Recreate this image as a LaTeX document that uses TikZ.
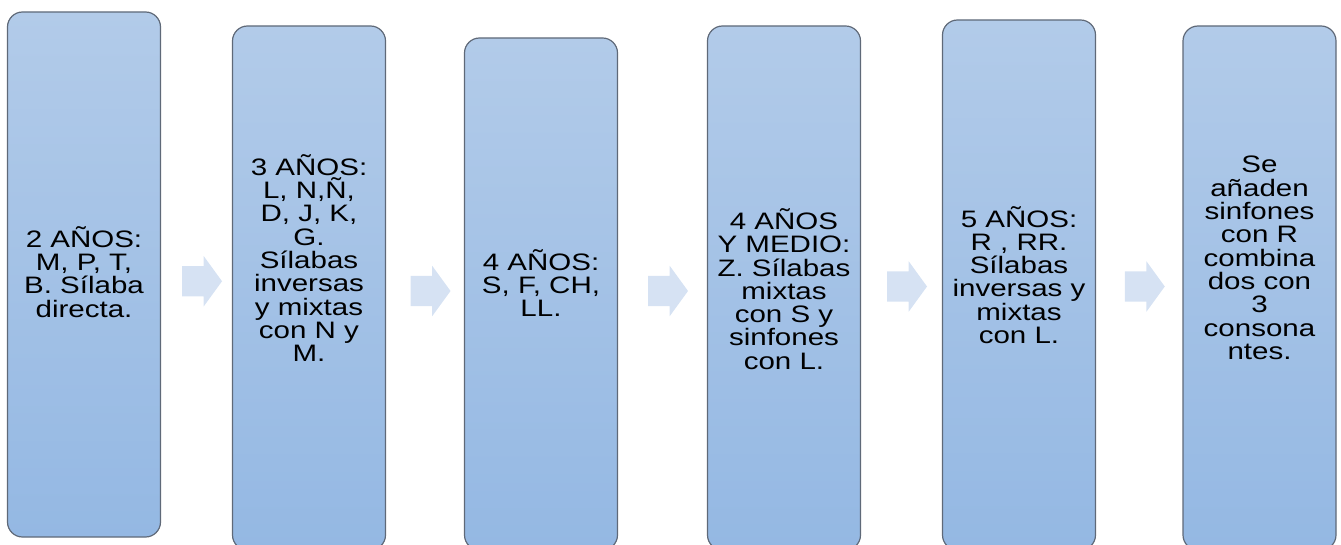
\documentclass[tikz,border=0pt]{standalone}
\usepackage{fontspec}
\setmainfont{Liberation Sans}[FakeStretch=1.24]
\usetikzlibrary{positioning, calc, shapes.arrows}

\definecolor{azulclaro}{RGB}{178,203,233}
\definecolor{azuloscuro}{RGB}{148,184,227}
\definecolor{borde}{RGB}{95,105,120}
\definecolor{flechaazul}{RGB}{214,226,243}

\begin{document}
\begin{tikzpicture}[x=1pt, y=-1pt,
    etapa/.style={rectangle, rounded corners=15pt, draw=borde, line width=1.2pt,
                  top color=azulclaro, bottom color=azuloscuro,
                  minimum width=153pt, inner sep=0pt},
    texto/.style={align=center, inner sep=0pt,
                  font=\fontsize{23.8}{23.3}\selectfont},
    flecha/.style={single arrow, fill=flechaazul, draw=none,
                   minimum height=40pt, inner xsep=0pt, inner ysep=15pt,
                   single arrow head extend=10pt, single arrow tip angle=108}]

    \useasboundingbox (0,0) rectangle (1341,545);

    % the six stages
    \node[etapa, minimum height=525pt] at (84, 274.5)   (b1) {};
    \node[etapa, minimum height=524pt] at (309, 288)    (b2) {};
    \node[etapa, minimum height=512pt] at (541, 294)    (b3) {};
    \node[etapa, minimum height=524pt] at (784, 288)    (b4) {};
    \node[etapa, minimum height=530pt] at (1019, 285)   (b5) {};
    \node[etapa, minimum height=524pt] at (1259.5, 288) (b6) {};

    % their texts
    \node[texto] at (84, 272)     (t1) {2 AÑOS:\\M, P, T,\\B. Sílaba\\directa.};
    \node[texto] at (309, 258)    (t2) {3 AÑOS:\\L, N,Ñ,\\D, J, K,\\G.\\Sílabas\\inversas\\y mixtas\\con N y\\M.};
    \node[texto] at (541, 283)    (t3) {4 AÑOS:\\S, F, CH,\\LL.};
    \node[texto] at (784, 289)    (t4) {4 AÑOS\\Y MEDIO:\\Z. Sílabas\\mixtas\\con S y\\sinfones\\con L.};
    \node[texto] at (1019, 275)   (t5) {5 AÑOS:\\R , RR.\\Sílabas\\inversas y\\mixtas\\con L.};
    \node[texto] at (1259.5, 258) (t6) {Se\\añaden\\sinfones\\con R\\combina\\dos con\\3\\consona\\ntes.};

    % arrows between the stages
    \node[flecha] at ($(b1.east)!0.5!(b2.west)$) (f1) {};
    \node[flecha] at ($(b2.east)!0.5!(b3.west)$) (f2) {};
    \node[flecha] at ($(b3.east)!0.5!(b4.west)$) (f3) {};
    \node[flecha] at ($(b4.east)!0.5!(b5.west)$) (f4) {};
    \node[flecha] at ($(b5.east)!0.5!(b6.west)$) (f5) {};
\end{tikzpicture}
\end{document}
